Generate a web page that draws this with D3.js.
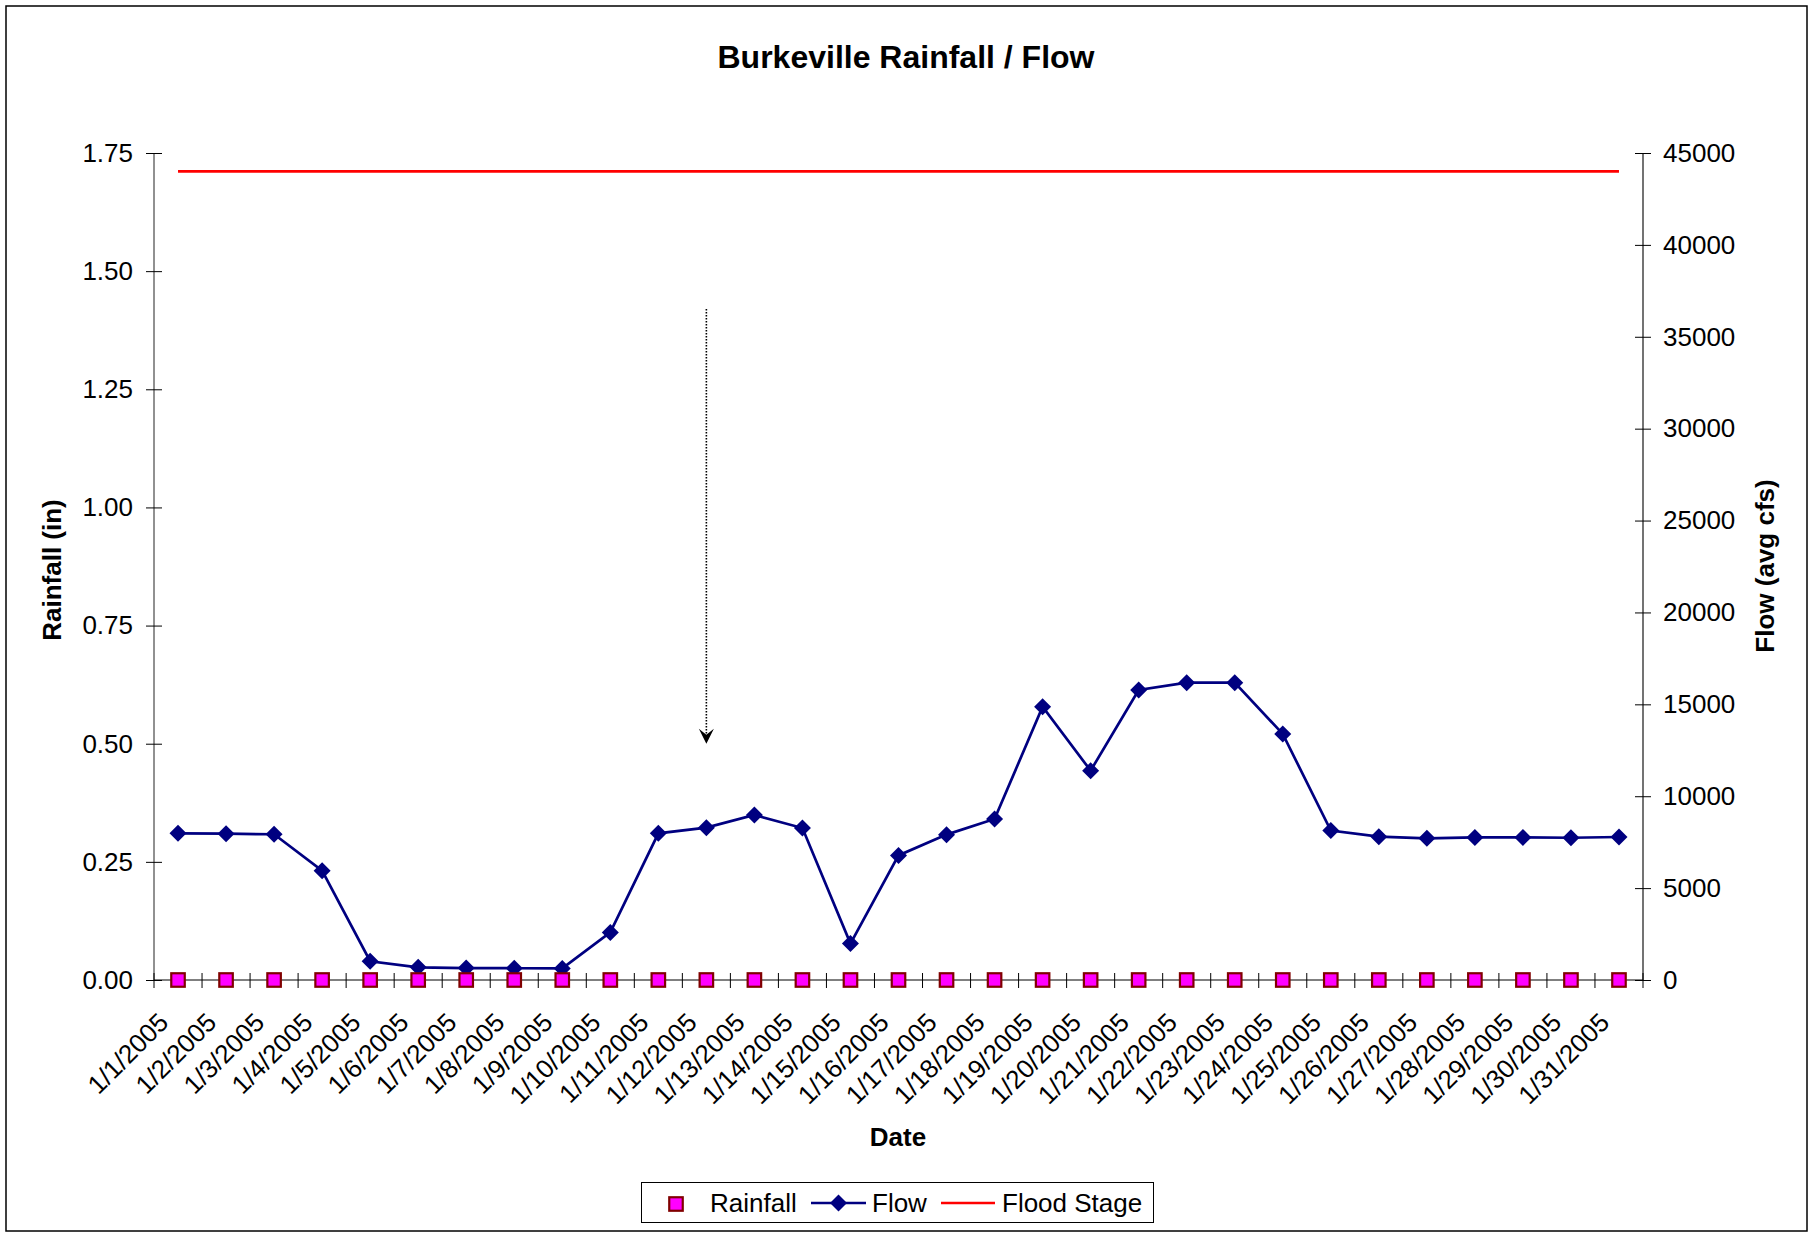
<!DOCTYPE html>
<html>
<head>
<meta charset="utf-8">
<script src="https://cdn.jsdelivr.net/npm/d3@7"></script>
<style>
  html, body { margin: 0; padding: 0; background: #fff; }
  svg { display: block; font-family: "Liberation Sans", Arial, sans-serif; }
</style>
</head>
<body>
<svg id="chart" width="1815" height="1233"></svg>
<script>
// ---------------- data ----------------
const dates = ["1/1/2005","1/2/2005","1/3/2005","1/4/2005","1/5/2005","1/6/2005","1/7/2005","1/8/2005",
  "1/9/2005","1/10/2005","1/11/2005","1/12/2005","1/13/2005","1/14/2005","1/15/2005","1/16/2005",
  "1/17/2005","1/18/2005","1/19/2005","1/20/2005","1/21/2005","1/22/2005","1/23/2005","1/24/2005",
  "1/25/2005","1/26/2005","1/27/2005","1/28/2005","1/29/2005","1/30/2005","1/31/2005"];
const rainfall = [0,0,0,0,0,0,0,0,0,0,0,0,0,0,0,0,0,0,0,0,0,0,0,0,0,0,0,0,0,0,0];
const flow = [7980,7960,7930,5950,1020,690,650,640,630,2590,7980,8290,8980,8270,1980,6780,
  7910,8760,14870,11390,15780,16180,16180,13390,8130,7800,7710,7760,7760,7740,7780];
const floodStage = dates.map(() => 44000);
const rainTicks = [0,0.25,0.5,0.75,1.0,1.25,1.5,1.75];
const flowTicks = [0,5000,10000,15000,20000,25000,30000,35000,40000,45000];
const arrowDate = "1/12/2005";
const arrowFrom = 1.42, arrowTo = 0.50; // rainfall units

// ---------------- layout ----------------
const svg = d3.select("#chart");
const L = 154, R = 1643, T = 153, B = 980;
const font = 26;

svg.append("rect").attr("x",6).attr("y",6).attr("width",1801).attr("height",1225)
  .attr("fill","#fff").attr("stroke","#000").attr("stroke-width",1.5);

const x = d3.scaleBand().domain(dates).range([L, R]).padding(0);
const cx = d => x(d) + x.bandwidth()/2;
const yL = d3.scaleLinear().domain([0,1.75]).range([B, T]);
const yR = d3.scaleLinear().domain([0,45000]).range([B, T]);

// title
svg.append("text").attr("x",906).attr("y",68).attr("text-anchor","middle")
  .attr("font-size",32).attr("font-weight","bold").text("Burkeville Rainfall / Flow");

// left axis
const gl = svg.append("g").attr("transform",`translate(${L},0)`)
  .call(d3.axisLeft(yL).tickValues(rainTicks).tickFormat(d3.format(".2f")).tickSize(8).tickPadding(13));
gl.selectAll("text").attr("font-size",font).attr("font-family","Liberation Sans, Arial").attr("fill","#000");
gl.selectAll(".tick").append("line").attr("x1",0).attr("x2",8).attr("stroke","#000");
gl.select(".domain").attr("d",`M0,${B}V${T}`).attr("stroke","#222");

// right axis
const gr = svg.append("g").attr("transform",`translate(${R},0)`)
  .call(d3.axisRight(yR).tickValues(flowTicks).tickFormat(d3.format("d")).tickSize(8).tickPadding(12));
gr.selectAll("text").attr("font-size",font).attr("font-family","Liberation Sans, Arial").attr("fill","#000");
gr.selectAll(".tick").append("line").attr("x1",0).attr("x2",-8).attr("stroke","#000");
gr.select(".domain").attr("d",`M0,${B}V${T}`).attr("stroke","#444").attr("stroke-width",1.5);

// x axis
const gx = svg.append("g").attr("transform",`translate(0,${B})`)
  .call(d3.axisBottom(x).tickSize(0).tickPadding(0));
gx.select(".domain").attr("d",`M${L},0H${R}`).attr("stroke","#000");
gx.selectAll(".tick text")
  .attr("font-size",font).attr("font-family","Liberation Sans, Arial").attr("fill","#000")
  .attr("text-anchor","end").attr("dy",0).attr("y",0)
  .attr("transform","translate(-8,44) rotate(-45)");
const bounds = dates.map(d => x(d)).concat([R]);
gx.selectAll("line.bt").data(bounds).join("line").attr("class","bt")
  .attr("x1",d=>d).attr("x2",d=>d).attr("y1",-7).attr("y2",8).attr("stroke","#000");

// axis titles
svg.append("text").attr("transform","translate(61,570) rotate(-90)").attr("text-anchor","middle")
  .attr("font-size",26).attr("font-weight","bold").text("Rainfall (in)");
svg.append("text").attr("transform","translate(1774,566) rotate(-90)").attr("text-anchor","middle")
  .attr("font-size",26).attr("font-weight","bold").text("Flow (avg cfs)");
svg.append("text").attr("x",898).attr("y",1146).attr("text-anchor","middle")
  .attr("font-size",26).attr("font-weight","bold").text("Date");

// flood stage
svg.append("path").datum(floodStage)
  .attr("d", d3.line().x((d,i)=>cx(dates[i])).y(d=>yR(d)))
  .attr("fill","none").attr("stroke","#FF0000").attr("stroke-width",2.6);

// flow line
svg.append("path").datum(flow)
  .attr("d", d3.line().x((d,i)=>cx(dates[i])).y(d=>yR(d)))
  .attr("fill","none").attr("stroke","#000080").attr("stroke-width",2.7);
const diamond = s => `M0,${-s}L${s},0L0,${s}L${-s},0Z`;
svg.selectAll("path.dia").data(flow).join("path").attr("class","dia")
  .attr("transform",(d,i)=>`translate(${cx(dates[i])},${yR(d)})`)
  .attr("d", diamond(8.5)).attr("fill","#000080");

// rainfall squares
const sq = 13.5;
svg.selectAll("rect.rain").data(rainfall).join("rect").attr("class","rain")
  .attr("x",(d,i)=>cx(dates[i])-sq/2).attr("y",d=>yL(d)-sq/2)
  .attr("width",sq).attr("height",sq)
  .attr("fill","#FF00FF").attr("stroke","#800000").attr("stroke-width",2.2);

// arrow annotation
const ax = cx(arrowDate);
svg.append("line").attr("x1",ax).attr("x2",ax).attr("y1",yL(arrowFrom)).attr("y2",yL(arrowTo)-10)
  .attr("stroke","#000").attr("stroke-width",1.6).attr("stroke-dasharray","1.5,1.5");
const ty = yL(arrowTo);
svg.append("path").attr("d",`M${ax},${ty}L${ax-7.5},${ty-15}L${ax},${ty-9}L${ax+7.5},${ty-15}Z`).attr("fill","#000");

// legend
const lg = svg.append("g");
lg.append("rect").attr("x",641.5).attr("y",1182.5).attr("width",512).attr("height",40)
  .attr("fill","#fff").attr("stroke","#000").attr("stroke-width",1);
lg.append("rect").attr("x",676-sq/2).attr("y",1204-sq/2).attr("width",sq).attr("height",sq)
  .attr("fill","#FF00FF").attr("stroke","#800000").attr("stroke-width",2.2);
lg.append("text").attr("x",710).attr("y",1212).attr("font-size",26).text("Rainfall");
lg.append("line").attr("x1",811).attr("x2",866).attr("y1",1203).attr("y2",1203)
  .attr("stroke","#000080").attr("stroke-width",2.7);
lg.append("path").attr("transform","translate(838.5,1203)").attr("d",diamond(8.5)).attr("fill","#000080");
lg.append("text").attr("x",872).attr("y",1212).attr("font-size",26).text("Flow");
lg.append("line").attr("x1",941).attr("x2",995).attr("y1",1203).attr("y2",1203)
  .attr("stroke","#FF0000").attr("stroke-width",2.6);
lg.append("text").attr("x",1002).attr("y",1212).attr("font-size",26).text("Flood Stage");
</script>
</body>
</html>
